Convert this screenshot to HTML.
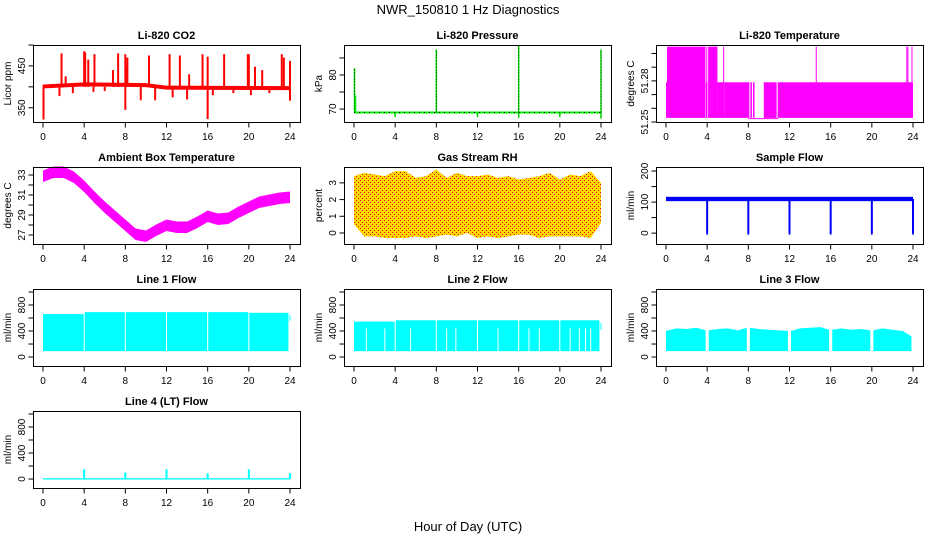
<!DOCTYPE html>
<html><head><meta charset="utf-8"><style>
body{margin:0;background:#fff}
svg{display:block;font-family:"Liberation Sans",sans-serif}
</style></head><body>
<svg id="c" width="936" height="540" viewBox="0 0 936 540">
<defs><pattern id="rhpat" width="4" height="4" patternUnits="userSpaceOnUse"><rect width="4" height="4" fill="#ffd800"/><rect width="1" height="1" fill="#e8000a"/><rect x="2" y="2" width="1" height="1" fill="#e8000a"/></pattern></defs>
<text x="468" y="14" text-anchor="middle" font-size="13">NWR_150810  1 Hz Diagnostics</text>
<text x="468" y="531" text-anchor="middle" font-size="13">Hour of Day (UTC)</text>
</svg>
<script>
// ---- data ----
const xTicks=[0,4,8,12,16,20,24];
// CO2
const co2BaseHours=[0,0.1,4,10,12,24];
const co2BaseVals=[400,401,406,404,398,397];
const co2SpikeHours=[1.8,2.2,4.0,4.1,4.4,5.0,6.8,7.3,8.0,8.1,8.2,10.3,12.3,13.3,14.2,15.5,16.0,17.6,19.9,20.0,20.6,21.3,23.2,23.4,24.0];
const co2SpikeVals=[480,425,485,482,465,478,440,480,478,450,470,475,478,475,430,478,472,478,478,478,448,440,478,470,462];
const co2DipHours=[0.05,1.6,2.9,4.9,6.0,8.0,9.5,10.9,12.6,14.0,16.0,16.5,18.5,20.2,22.0,24.0];
const co2DipVals=[322,378,385,388,390,345,368,368,375,370,323,380,385,380,385,367];
// Pressure
const presSpikeHours=[0.05,0.15,8.0,16.0,24.0];
const presSpikeVals=[82,74,87.5,88.5,87.5];
const presDipHours=[4,12,20,16,24];
const presDipVals=[67.6,67.6,67.6,67.4,67.2];
const presBase=69;
// Li-820 temperature segments
const tempSegStart=[0,0.1,3.85,4.15,5.0,5.65,8.2,8.45,9.5,10.85];
const tempSegEnd=[0.1,3.8,4.0,5.0,5.6,8.1,8.35,8.6,10.75,24.0];
const tempSegHigh=[51.279,51.305,51.279,51.305,51.279,51.279,51.279,51.279,51.279,51.279];
const tempSpikeHours=[3.9,4.1,5.6,14.6,23.4,23.5,23.9];
const tempLow=51.253;
// Ambient box temperature
const ambHours=[0,1,2,3,4,5,6,7,8,9,10,11,12,13,14,15,16,17,18,19,20,21,22,23,24];
const ambVals=[32.9,33.3,33.3,32.8,31.9,30.8,29.8,28.9,28.0,27.1,26.9,27.5,28.0,27.8,27.8,28.3,28.9,28.6,28.7,29.3,29.8,30.3,30.5,30.7,30.8];
// Gas stream RH
const rhHours=[0,1,2,3,4,5,6,7,8,9,10,11,12,13,14,15,16,17,18,19,20,21,22,23,24];
const rhHigh=[3.4,3.6,3.5,3.4,3.7,3.7,3.3,3.4,3.8,3.3,3.6,3.4,3.4,3.5,3.3,3.4,3.2,3.3,3.4,3.6,3.2,3.5,3.4,3.7,3.0];
const rhLow=[0.5,-0.2,-0.2,-0.3,-0.3,-0.3,-0.2,-0.3,-0.2,-0.1,-0.2,0.0,-0.3,-0.2,-0.3,-0.2,-0.1,-0.1,-0.3,-0.2,-0.2,-0.2,-0.2,-0.3,0.6];
// Sample flow
const sfBase=110;
const sfDropHours=[4,8,12,16,20,24];
const sfDropVals=[0,0,0,0,0,0];
// Line flows
const flowGapHours=[4,8,12,16,20];
const l1High=[660,690,690,690,690,680];
const l2High=[545,565,565,565,565,565];
const l2NotchHours=[1.2,3.0,5.5,9.0,9.9,14.0,17.0,18.0,21.0,21.9,22.5,23.0];
const l3HighHours=[0,1,2,3,4,5,6,7,8,9,10,11,12,13,14,15,16,17,18,19,20,21,22,23,24];
const l3High=[400,440,430,450,410,430,440,410,450,430,420,410,400,440,450,460,420,440,420,430,410,440,420,400,320];
const flowLow=90;
const l4SpikeHours=[4,8,12,16,20,24];
const l4SpikeVals=[150,100,150,90,150,90];
</script>
<script>
const svg=document.getElementById('c');
const NS='http://www.w3.org/2000/svg';
function mk(tag,attrs,parent){const e=document.createElementNS(NS,tag);for(const k in attrs)e.setAttribute(k,attrs[k]);(parent||svg).appendChild(e);return e;}
const colL=[33,344,656],rowT=[45,167,289,411],W=267,H=77;
function panel(col,row,title,ylab,dom,ticks,labels,name){
  const L=colL[col],T=rowT[row];
  const g=mk('g',{});
  
  
  const x=h=>L+10+h*(247/24);
  const y=v=>T+H-(v-dom[0])/(dom[1]-dom[0])*H;
  const t=mk('text',{x:L+W/2,y:T-6,'text-anchor':'middle','font-size':11,'font-weight':'bold'},g);t.textContent=title;
  
  
  const yl=mk('text',{transform:`translate(${L-22},${T+H/2}) rotate(-90)`,'text-anchor':'middle','font-size':10},g);yl.textContent=ylab;
  
  
  const marks=mk('g',{},g);
  
  
  const ax=mk('g',{stroke:'#000','stroke-width':1,fill:'none'},g);
  
  
  mk('rect',{x:L+.5,y:T+.5,width:W,height:H},ax);
  const B=T+H+.5;
  xTicks.forEach(h=>{mk('line',{x1:x(h),x2:x(h),y1:B,y2:B+5},ax);
    const tl=mk('text',{x:x(h),y:T+H+18,'text-anchor':'middle','font-size':10,fill:'#000',stroke:'none'},g);tl.textContent=h;
    
    });
  ticks.forEach(v=>mk('line',{x1:L-4.5,x2:L+.5,y1:y(v),y2:y(v)},ax));
  labels.forEach(v=>{const tl=mk('text',{transform:`translate(${L-8},${y(v)}) rotate(-90)`,'text-anchor':'middle','font-size':10},g);tl.textContent=v;
    
    });
  return {x,y,g:marks};
}
function vline(p,h,v1,v2,col,w){return mk('line',{x1:p.x(h),x2:p.x(h),y1:p.y(v1),y2:p.y(v2),stroke:col,'stroke-width':w||1.5},p.g);}
function rect(p,h1,h2,v1,v2,fill){return mk('rect',{x:p.x(h1),y:p.y(v2),width:p.x(h2)-p.x(h1),height:p.y(v1)-p.y(v2),fill},p.g);}

// CO2
let p=panel(0,0,'Li-820 CO2','Licor ppm',[316,500],[350,400,450,500],[350,450],'co2-panel');
{let pts=co2BaseHours.map((h,i)=>p.x(h)+','+p.y(co2BaseVals[i])).join(' ');
 mk('polyline',{points:pts,fill:'none',stroke:'#f00','stroke-width':4},p.g);
 co2SpikeHours.forEach((h,i)=>vline(p,h,400,co2SpikeVals[i],'#f00',2));
 co2DipHours.forEach((h,i)=>vline(p,h,400,co2DipVals[i],'#f00',2));}
// Pressure
p=panel(1,0,'Li-820 Pressure','kPa',[66.2,88.8],[70,75,80,85],[70,80],'pressure-panel');
mk('line',{x1:p.x(0),x2:p.x(24),y1:p.y(presBase),y2:p.y(presBase),stroke:'#0e0','stroke-width':2},p.g);
mk('line',{x1:p.x(0),x2:p.x(24),y1:p.y(presBase),y2:p.y(presBase),stroke:'#000','stroke-width':1,'stroke-dasharray':'1 4'},p.g);
presDipHours.forEach((h,i)=>vline(p,h,presBase,presDipVals[i],'#0c0',1.5));
presSpikeHours.forEach((h,i)=>{vline(p,h,presBase,presSpikeVals[i],'#0e0',1.5);if(i!==1)mk('line',{x1:p.x(h),x2:p.x(h),y1:p.y(presBase),y2:p.y(presSpikeVals[i]),stroke:'#000','stroke-width':1,'stroke-dasharray':'1 2'},p.g);});
// Li-820 Temperature
p=panel(2,0,'Li-820 Temperature','degrees C',[51.25,51.3062],[51.25,51.26,51.27,51.28,51.29,51.30],['51.25','51.28'],'li820-temperature-panel');
mk('line',{x1:p.x(8),x2:p.x(10.9),y1:p.y(51.2525),y2:p.y(51.2525),stroke:'#f0f','stroke-width':1},p.g);
tempSegStart.forEach((s,i)=>rect(p,s,tempSegEnd[i],tempLow,tempSegHigh[i],'#f0f'));
tempSpikeHours.forEach(h=>vline(p,h,tempLow,51.305,'#f0f',1));
// Ambient
p=panel(0,1,'Ambient Box Temperature','degrees C',[26.1,33.8],[27,28,29,30,31,32,33],[27,29,31,33],'ambient-temperature-panel');
{const up=ambHours.map((h,i)=>p.x(h)+','+p.y(ambVals[i]+0.55));const dn=ambHours.map((h,i)=>p.x(h)+','+p.y(ambVals[i]-0.6)).reverse();
 mk('polygon',{points:up.concat(dn).join(' '),fill:'#f0f'},p.g);}
// RH
p=panel(1,1,'Gas Stream RH','percent',[-0.66,3.95],[0,1,2,3],[0,1,2,3],'rh-panel');
{const up=rhHours.map((h,i)=>p.x(h)+','+p.y(rhHigh[i]));const dn=rhHours.map((h,i)=>p.x(h)+','+p.y(rhLow[i])).reverse();
 mk('polygon',{points:up.concat(dn).join(' '),fill:'url(#rhpat)'},p.g);}
// Sample flow
p=panel(2,1,'Sample Flow','ml/min',[-35,213],[0,50,100,150,200],[0,100,200],'sample-flow-panel');
rect(p,0,24,sfBase-7,sfBase+7,'#00f');
sfDropHours.forEach((h,i)=>{vline(p,h,sfBase,sfDropVals[i],'#00f',2);rect(p,h-0.08,h+0.08,sfDropVals[i]-5,sfDropVals[i]+5,'#00f');});
// Line flows
const fdom=[-138,1046],fticks=[0,200,400,600,800,1000],flab=[0,400,800];
function flowBands(p,high){const edges=[0].concat(flowGapHours,[23.9]);
  for(let i=0;i<edges.length-1;i++)rect(p,edges[i]+(i?0.05:0),edges[i+1]-0.05,flowLow,high[i],'#0ff');}
p=panel(0,2,'Line 1 Flow','ml/min',fdom,fticks,flab,'line1-flow-panel');
flowBands(p,l1High);rect(p,23.95,24.05,560,640,'#0ff');
p=panel(1,2,'Line 2 Flow','ml/min',fdom,fticks,flab,'line2-flow-panel');
flowBands(p,l2High);l2NotchHours.forEach(h=>vline(p,h,flowLow,440,'#fff',1));rect(p,23.95,24.05,420,520,'#0ff');
p=panel(2,2,'Line 3 Flow','ml/min',fdom,fticks,flab,'line3-flow-panel');
{const edges=[0].concat(flowGapHours,[24]);
 for(let i=0;i<edges.length-1;i++){const a=edges[i]+(i?0.15:0),b=edges[i+1]-0.15;
  const hs=l3HighHours.filter(h=>h>a&&h<b);const pts=[[a,flowLow]];
  [a].concat(hs,[b]).forEach(h=>{const j=Math.min(24,Math.round(h));pts.push([h,l3High[j]]);});pts.push([b,flowLow]);
  mk('polygon',{points:pts.map(q=>p.x(q[0])+','+p.y(q[1])).join(' '),fill:'#0ff'},p.g);}}
p=panel(0,3,'Line 4 (LT) Flow','ml/min',fdom,fticks,flab,'line4-flow-panel');
rect(p,0,24,-8,12,'#0ff');
l4SpikeHours.forEach((h,i)=>vline(p,h,0,l4SpikeVals[i],'#0ff',2));
</script>
</body></html>
